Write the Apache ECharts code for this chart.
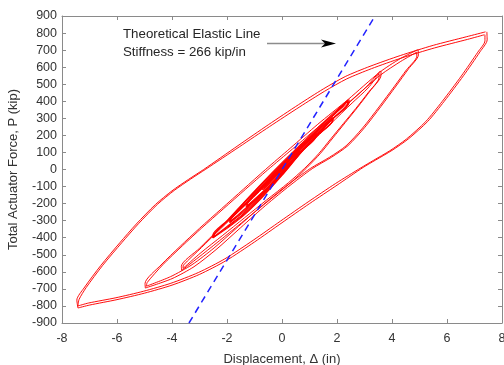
<!DOCTYPE html>
<html><head><meta charset="utf-8">
<script src="https://cdn.jsdelivr.net/npm/echarts@6/dist/echarts.min.js"></script>
<style>html,body{margin:0;padding:0;background:#fff}#c{width:504px;height:365px}</style>
</head><body><div id="c"></div><script>
// Axis ranges / ticks
const xTicks = {min:-8, max:8, step:2};
const yTicks = {min:-900, max:900, step:100};
const STIFFNESS = 266; // kip/in, theoretical elastic line

// Hysteresis loop branches [displacement (in), force (kip)]
const A_up1 = [[-7.42,-812],[-7.46,-765],[-7.2,-695],[-6.6,-565],[-5.9,-430],[-5.3,-320],[-4.6,-205],[-4.0,-125],[-3.4,-58],[-2.85,0],[-1.6,140],[-0.5,262],[0.6,380],[1.5,472],[2.3,545],[3.2,605],[4.3,668],[5.5,728],[6.7,778],[7.4,807]];
const A_dn1 = [[7.45,807],[7.46,760],[7.2,690],[6.6,550],[5.9,400],[5.3,282],[4.6,180],[4.0,112],[3.4,55],[2.95,12],[2.0,-92],[1.0,-200],[0,-312],[-1,-425],[-2.04,-535],[-3.0,-615],[-4.0,-678],[-5.0,-725],[-6.0,-763],[-7.0,-795],[-7.42,-812]];
const A_up2 = [[-7.42,-800],[-7.38,-762],[-7.12,-692],[-6.52,-562],[-5.82,-428],[-5.22,-318],[-4.52,-203],[-3.92,-123],[-3.32,-56],[-2.77,2],[-1.55,133],[-0.45,252],[0.65,368],[1.55,459],[2.35,531],[3.25,591],[4.35,654],[5.55,713],[6.75,763],[7.36,790]];
const A_dn2 = [[7.38,790],[7.38,755],[7.12,688],[6.52,548],[5.82,398],[5.22,280],[4.52,178],[3.92,110],[3.32,53],[2.87,10],[1.95,-82],[0.95,-190],[-0.05,-302],[-1.05,-415],[-2.08,-524],[-3.04,-604],[-4.04,-667],[-5.04,-714],[-6.04,-752],[-7.04,-783],[-7.42,-800]];

const B_up1 = [[-4.97,-695],[-4.98,-668],[-4.4,-560],[-3.7,-450],[-3.0,-345],[-2.2,-230],[-1.4,-115],[-0.6,0],[0.3,125],[1.3,265],[2.4,410],[3.55,570],[4.3,650],[4.93,702]];
const B_dn1 = [[4.95,702],[4.96,672],[4.6,590],[4.15,490],[3.6,370],[3.0,245],[2.4,140],[1.8,72],[1.1,5],[0.2,-105],[-0.7,-225],[-1.6,-355],[-2.4,-470],[-3.2,-570],[-4.0,-640],[-4.97,-695]];
const B_up2 = [[-4.93,-684],[-4.9,-662],[-4.32,-556],[-3.62,-447],[-2.92,-343],[-2.12,-229],[-1.32,-115],[-0.52,-2],[0.38,120],[1.38,257],[2.46,398],[3.6,556],[4.32,634],[4.9,688]];
const B_dn2 = [[4.9,688],[4.9,664],[4.53,585],[4.08,486],[3.53,367],[2.93,243],[2.33,139],[1.73,72],[1.03,6],[0.13,-100],[-0.77,-218],[-1.67,-346],[-2.47,-460],[-3.27,-558],[-4.05,-628],[-4.93,-684]];

const C_up1 = [[-3.65,-592],[-3.66,-568],[-3.0,-462],[-2.3,-350],[-1.5,-225],[-0.7,-100],[0.1,25],[0.9,150],[1.7,275],[2.5,400],[3.1,490],[3.57,578]];
const C_dn1 = [[3.6,578],[3.6,552],[3.2,460],[2.75,365],[2.3,275],[1.85,185],[1.4,95],[0.9,10],[0.3,-80],[-0.5,-185],[-1.3,-290],[-2.1,-395],[-2.9,-498],[-3.65,-592]];
const C_up2 = [[-3.6,-580],[-3.58,-560],[-2.93,-458],[-2.23,-347],[-1.43,-224],[-0.63,-100],[0.17,22],[0.97,145],[1.77,268],[2.55,390],[3.13,478],[3.53,562]];
const C_dn2 = [[3.53,562],[3.53,540],[3.13,450],[2.68,357],[2.23,269],[1.78,181],[1.33,92],[0.83,8],[0.23,-78],[-0.57,-180],[-1.37,-284],[-2.17,-388],[-2.95,-488],[-3.6,-580]];

const D_up1 = [[-2.52,-402],[-2.52,-385],[-2.0,-300],[-1.4,-195],[-0.7,-75],[0.0,40],[0.7,150],[1.4,260],[1.9,335],[2.42,410]];
const D_dn1 = [[2.44,410],[2.44,392],[1.9,305],[1.3,205],[0.7,100],[0.0,-35],[-0.7,-160],[-1.4,-270],[-2.0,-345],[-2.52,-402]];
const D_up2 = [[-2.46,-392],[-2.45,-378],[-1.94,-296],[-1.34,-192],[-0.64,-74],[0.06,38],[0.76,146],[1.46,254],[1.94,328],[2.38,400]];
const D_dn2 = [[2.38,400],[2.38,383],[1.85,299],[1.25,200],[0.65,96],[-0.05,-36],[-0.75,-158],[-1.45,-266],[-2.03,-338],[-2.46,-392]];
const D_up3 = [[-2.49,-397],[-2.48,-381],[-1.97,-298],[-1.37,-193],[-0.67,-74],[0.03,39],[0.73,148],[1.43,257],[1.92,331],[2.4,405]];
const D_dn3 = [[2.41,405],[2.41,387],[1.88,302],[1.28,202],[0.68,98],[-0.02,-35],[-0.72,-159],[-1.42,-268],[-2.01,-341],[-2.49,-397]];

const E_up1 = [[-1.9,-312],[-1.9,-296],[-1.3,-195],[-0.6,-75],[0.1,45],[0.8,155],[1.4,245],[1.85,305]];
const E_dn1 = [[1.86,305],[1.86,290],[1.3,205],[0.6,90],[-0.1,-40],[-0.8,-160],[-1.4,-250],[-1.9,-312]];
const E_up2 = [[-1.86,-302],[-1.84,-288],[-1.24,-190],[-0.54,-72],[0.16,42],[0.86,150],[1.44,238],[1.82,295]];
const E_dn2 = [[1.82,295],[1.82,282],[1.26,199],[0.56,86],[-0.14,-40],[-0.84,-156],[-1.44,-243],[-1.86,-302]];
const E_up3 = [[-1.88,-307],[-1.87,-292],[-1.27,-192],[-0.57,-73],[0.13,43],[0.83,152],[1.42,241],[1.84,300]];
const E_dn3 = [[1.84,300],[1.84,286],[1.28,202],[0.58,88],[-0.12,-40],[-0.82,-158],[-1.42,-246],[-1.88,-307]];

const F_up1 = [[-1.3,-220],[-1.3,-206],[-0.7,-100],[0,15],[0.6,115],[1.25,212]];
const F_dn1 = [[1.26,212],[1.26,198],[0.7,105],[0,-25],[-0.7,-140],[-1.3,-220]];
const F_up2 = [[-1.26,-212],[-1.25,-199],[-0.66,-98],[0.04,14],[0.64,110],[1.22,204]];
const F_dn2 = [[1.22,204],[1.22,192],[0.66,101],[-0.04,-25],[-0.74,-136],[-1.26,-212]];

const G_up1 = [[-0.7,-120],[-0.7,-110],[-0.2,-25],[0.3,55],[0.65,110]];
const G_dn1 = [[0.66,110],[0.66,100],[0.2,25],[-0.3,-60],[-0.7,-120]];
const G_up2 = [[-0.66,-112],[-0.65,-104],[-0.16,-22],[0.33,52],[0.62,104]];
const G_dn2 = [[0.62,104],[0.62,96],[0.16,23],[-0.34,-58],[-0.66,-112]];

const outerBranches = [A_up1,A_dn1,A_up2,A_dn2,B_up1,B_dn1,B_up2,B_dn2,C_up1,C_dn1,C_up2,C_dn2];
const innerBranches = [D_up1,D_dn1,D_up2,D_dn2,D_up3,D_dn3,E_up1,E_dn1,E_up2,E_dn2,E_up3,E_dn3,
  F_up1,F_dn1,F_up2,F_dn2,G_up1,G_dn1,G_up2,G_dn2];

const xTitle = 'Displacement, \u0394 (in)';
const yTitle = 'Total Actuator Force, P (kip)';
const noteLines = ['Theoretical Elastic Line', 'Stiffness = ' + STIFFNESS + ' kip/in'];

const FONT = '"Liberation Sans", Arial, Helvetica, sans-serif';
const AX = '#8a8a8a', TXT = '#333';

const chart = echarts.init(document.getElementById('c'), null, {renderer:'canvas'});
const axisCommon = {type:'value', splitLine:{show:false},
  axisLine:{show:true, onZero:false, lineStyle:{color:AX, width:1}},
  axisTick:{show:true, inside:true, length:4, lineStyle:{color:AX}}};

const mk = (b, w) => ({type:'line', data:b, symbol:'none', smooth:0.25,
  lineStyle:{color:'#ff0000', width:w}, silent:true, z:2});
const series = outerBranches.map(b => mk(b, 0.95)).concat(innerBranches.map(b => mk(b, 1.1)));
const elastic = [[yTicks.min/STIFFNESS, yTicks.min],[yTicks.max/STIFFNESS, yTicks.max]];
series.push({type:'line', data:elastic, symbol:'none', silent:true, z:3,
  lineStyle:{color:'#2222ff', width:1.5, type:[7,5]}});

chart.setOption({
  animation:false,
  backgroundColor:'#fff',
  grid:{left:62, right:2, top:16, bottom:42, containLabel:false, outerBoundsMode:'none'},
  xAxis:[
    Object.assign({}, axisCommon, {min:xTicks.min, max:xTicks.max, interval:xTicks.step, position:'bottom',
      name:xTitle, nameLocation:'middle', nameGap:30,
      nameTextStyle:{fontFamily:FONT, fontSize:13, color:TXT},
      axisLabel:{fontFamily:FONT, fontSize:12.5, color:TXT, margin:9}}),
    Object.assign({}, axisCommon, {min:xTicks.min, max:xTicks.max, interval:xTicks.step, position:'top',
      axisLabel:{show:false}})
  ],
  yAxis:[
    Object.assign({}, axisCommon, {min:yTicks.min, max:yTicks.max, interval:yTicks.step, position:'left',
      name:yTitle, nameLocation:'middle', nameGap:42,
      nameTextStyle:{fontFamily:FONT, fontSize:13, color:TXT},
      axisLabel:{fontFamily:FONT, fontSize:12.5, color:TXT, margin:5}}),
    Object.assign({}, axisCommon, {min:yTicks.min, max:yTicks.max, interval:yTicks.step, position:'right',
      axisLabel:{show:false}})
  ],
  series:series,
  graphic:[
    {type:'text', left:123, top:28, style:{text:noteLines[0], font:'13.3px '+FONT, fill:'#262626'}},
    {type:'text', left:123, top:46, style:{text:noteLines[1], font:'13.3px '+FONT, fill:'#262626'}},
    {type:'line', shape:{x1:267, y1:43.5, x2:327, y2:43.5}, style:{stroke:'#8c8c8c', lineWidth:1.5}},
    {type:'polygon', shape:{points:[[321,39.5],[336,43.5],[321,47.5],[325,43.5]]}, style:{fill:'#000'}}
  ]
});
</script></body></html>
